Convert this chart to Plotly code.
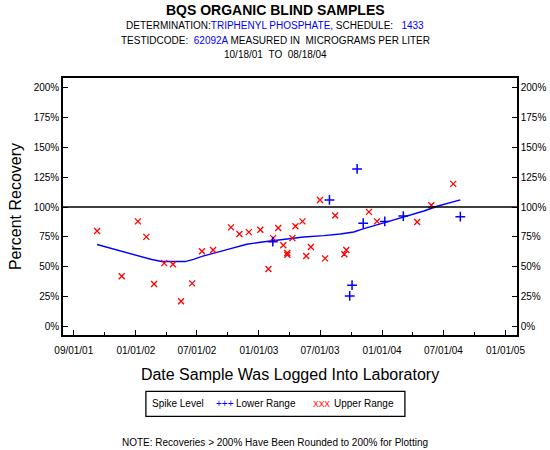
import plotly.graph_objects as go

# ---- data ----
upper_dates = ["2001-09-08", "2001-11-20", "2002-01-07", "2002-02-01", "2002-02-24", "2002-03-26",
               "2002-04-21", "2002-05-15", "2002-06-17", "2002-07-16", "2002-08-18", "2002-10-10",
               "2002-11-04", "2002-12-02", "2003-01-05", "2003-01-29", "2003-02-12", "2003-02-27",
               "2003-03-14", "2003-03-26", "2003-03-26", "2003-04-10", "2003-04-19", "2003-05-10",
               "2003-05-21", "2003-06-04", "2003-07-01", "2003-07-16", "2003-08-15", "2003-09-11",
               "2003-09-17", "2003-11-23", "2003-12-17", "2004-04-14", "2004-05-26", "2004-07-30"]
upper_values = [80, 42, 88, 75, 35.5, 53, 52, 21, 36, 63, 64, 83, 77.5, 79, 81, 48, 74, 82.5,
                68, 61.5, 60, 74, 84, 88, 59, 66.5, 106, 57, 93, 60.5, 64, 96, 88, 87.5, 101.5, 119.5]

lower_dates = ["2003-02-11", "2003-07-29", "2003-09-27", "2003-10-04", "2003-10-19", "2003-11-06",
               "2004-01-09", "2004-03-04", "2004-08-20"]
lower_values = [71, 106, 25.5, 34.5, 132, 86.5, 88, 92.5, 92]

fit_dates = ["2001-09-08", "2001-11-10", "2001-12-30", "2002-02-17", "2002-03-19", "2002-05-27",
             "2002-06-21", "2002-07-16", "2002-09-28", "2002-11-26", "2003-01-05", "2003-02-13",
             "2003-04-13", "2003-05-13", "2003-07-12", "2003-08-30", "2003-10-09", "2003-11-08",
             "2004-01-06", "2004-03-05", "2004-05-04", "2004-06-12", "2004-07-22", "2004-08-20"]
fit_values = [68.6, 63.8, 60.2, 56.0, 54.4, 54.3, 56.2, 58.7, 64.3, 68.8, 70.5, 71.9,
              73.8, 74.9, 76.1, 77.4, 79.1, 82.0, 86.7, 91.7, 96.7, 100.7, 104.0, 106.0]

x_tick_vals = ["2001-07-01", "2002-01-01", "2002-07-01", "2003-01-01", "2003-07-01",
               "2004-01-01", "2004-07-01", "2005-01-01"]
x_tick_text = ["09/01/01", "01/01/02", "07/01/02", "01/01/03", "07/01/03",
               "01/01/04", "07/01/04", "01/01/05"]
x_minor_vals = ["2001-10-01", "2002-04-01", "2002-10-01", "2003-04-01", "2003-10-01",
                "2004-04-01", "2004-10-01"]
y_tick_vals = [0, 25, 50, 75, 100, 125, 150, 175, 200]
y_tick_text = ["0%", "25%", "50%", "75%", "100%", "125%", "150%", "175%", "200%"]
x_range = ["2001-05-30", "2005-02-04"]
y_range = [-7.3, 208.3]
reference_level = [100, 100]

FONT = "Liberation Sans, Arial, sans-serif"

fig = go.Figure()
fig.add_trace(go.Scatter(x=x_range, y=reference_level, mode="lines", yaxis="y2",
                         line=dict(color="black", width=1.5), hoverinfo="skip", showlegend=False))
fig.add_trace(go.Scatter(x=fit_dates, y=fit_values, mode="lines",
                         line=dict(color="blue", width=1.4), showlegend=False))
fig.add_trace(go.Scatter(x=upper_dates, y=upper_values, mode="markers", name="Upper Range",
                         marker=dict(symbol="x-thin", size=6, line=dict(color="red", width=1.3)),
                         showlegend=False))
fig.add_trace(go.Scatter(x=lower_dates, y=lower_values, mode="markers", name="Lower Range",
                         marker=dict(symbol="cross-thin", size=7, line=dict(color="blue", width=1.5)),
                         showlegend=False))

axis_font = dict(family=FONT, size=10, color="black")
fig.update_layout(
    width=550, height=450,
    margin=dict(l=63, r=33, t=78, b=115, autoexpand=False),
    paper_bgcolor="white", plot_bgcolor="white",
    font=dict(family=FONT, color="black"),
    xaxis=dict(type="date", range=x_range, tickmode="array", tickvals=x_tick_vals,
               ticktext=x_tick_text, ticks="inside", ticklen=5, tickwidth=1, tickcolor="black",
               minor=dict(tickmode="array", tickvals=x_minor_vals, ticks="inside", ticklen=3,
                          tickwidth=1, tickcolor="black"),
               showline=True, linecolor="black", linewidth=1.5, mirror=True, showgrid=False,
               zeroline=False, tickfont=axis_font, automargin=False, ticklabelstandoff=5,
               title=dict(text="Date Sample Was Logged Into Laboratory",
                          font=dict(family=FONT, size=16), standoff=14)),
    yaxis=dict(range=y_range, tickmode="array", tickvals=y_tick_vals, ticktext=y_tick_text,
               ticks="inside", ticklen=5, tickcolor="black", showline=True, linecolor="black",
               linewidth=1.5, mirror=True, showgrid=False, zeroline=False, tickfont=axis_font,
               automargin=False,
               title=dict(text="Percent Recovery", font=dict(family=FONT, size=16), standoff=8)),
    yaxis2=dict(range=y_range, overlaying="y", side="right", tickmode="array",
                tickvals=y_tick_vals, ticktext=y_tick_text, ticks="inside", ticklen=5,
                tickcolor="black", showline=True, linecolor="black", linewidth=1.5,
                showgrid=False, zeroline=False, tickfont=axis_font, automargin=False),
)

title_x = 0.4676
anns = [
    dict(text="<b>BQS ORGANIC BLIND SAMPLES</b>", y=1.2634, font=dict(family=FONT, size=14)),
    dict(text="DETERMINATION:<span style='color:blue'>TRIPHENYL PHOSPHATE,</span> SCHEDULE:&nbsp;&nbsp; "
              "<span style='color:blue'>1433</span>", y=1.2031, font=dict(family=FONT, size=10)),
    dict(text="TESTIDCODE:&nbsp; <span style='color:blue'>62092A</span> MEASURED IN&nbsp; MICROGRAMS PER LITER",
         y=1.1467, font=dict(family=FONT, size=10)),
    dict(text="10/18/01&nbsp;&nbsp;TO&nbsp;&nbsp;08/18/04", y=1.0922, font=dict(family=FONT, size=10)),
    dict(text="NOTE: Recoveries &gt; 200% Have Been Rounded to 200% for Plotting", y=-0.4167,
         font=dict(family=FONT, size=10)),
]
for a in anns:
    fig.add_annotation(xref="paper", yref="paper", x=title_x, xanchor="center", yanchor="middle",
                       showarrow=False, **a)

# legend box
leg_y = -0.2677
fig.add_shape(type="rect", xref="paper", yref="paper", x0=0.1826, x1=0.7531, y0=-0.3163, y1=-0.2191,
              line=dict(color="black", width=1.3), fillcolor="white")
legend_items = [("Spike Level", 0.1906, "black", 10), ("+++", 0.3333, "blue", 10),
                ("Lower Range", 0.3773, "black", 10), ("XXX", 0.5471, "red", 8.5),
                ("Upper Range", 0.5923, "black", 10)]
for txt, xx, col, sz in legend_items:
    fig.add_annotation(xref="paper", yref="paper", x=xx, y=leg_y, xanchor="left", yanchor="middle",
                       showarrow=False, text=txt, font=dict(family=FONT, size=sz, color=col))

fig.write_html("out.html", config={"displayModeBar": False},
               post_script="document.body.style.margin='0';document.body.style.overflow='hidden';")
